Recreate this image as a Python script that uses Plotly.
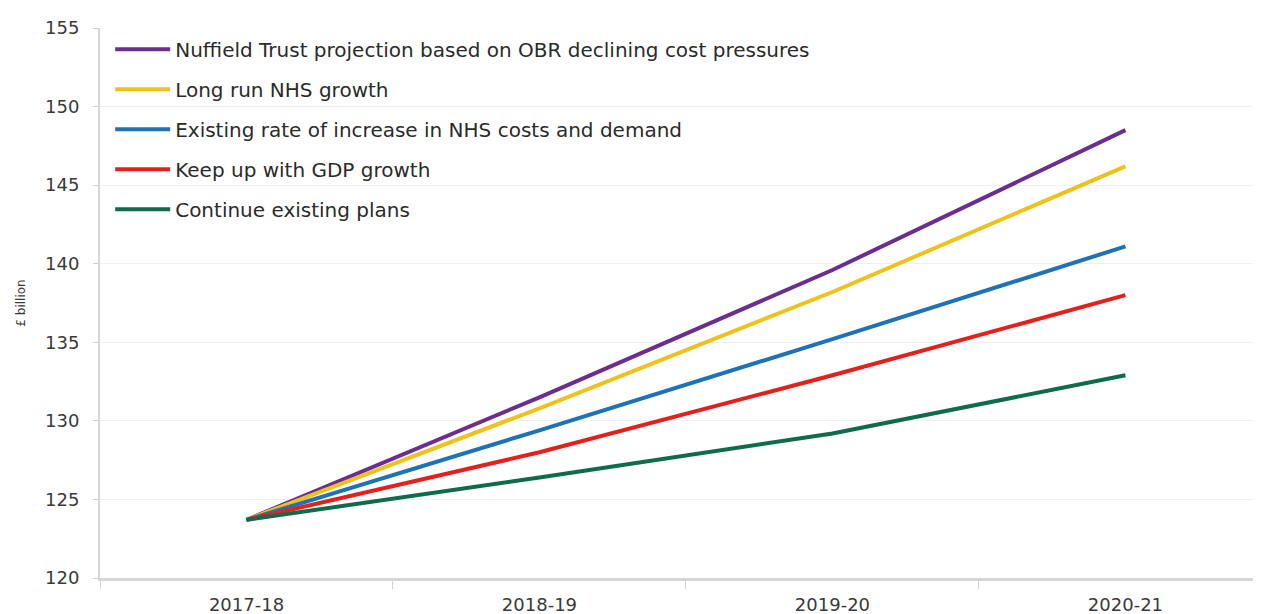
import plotly.graph_objects as go

categories = ["2017-18", "2018-19", "2019-20", "2020-21"]
series_names = [
    "Nuffield Trust projection based on OBR declining cost pressures",
    "Long run NHS growth",
    "Existing rate of increase in NHS costs and demand",
    "Keep up with GDP growth",
    "Continue existing plans",
]
nuffield = [123.7, 131.5, 139.6, 148.5]
long_run = [123.7, 130.8, 138.2, 146.2]
existing_rate = [123.7, 129.4, 135.2, 141.1]
gdp_growth = [123.7, 128.0, 132.9, 138.0]
existing_plans = [123.7, 126.4, 129.2, 132.9]
y_ticks = [120, 125, 130, 135, 140, 145, 150, 155]

colors = ["#6b2d8f", "#f0c11a", "#1d72b8", "#e3201c", "#0e6b4c"]
values = [nuffield, long_run, existing_rate, gdp_growth, existing_plans]

FONT = "'DejaVu Sans', sans-serif"

fig = go.Figure()
for i, (name, vals, col) in enumerate(zip(series_names, values, colors)):
    fig.add_trace(go.Scatter(
        x=categories, y=vals, mode="lines", name=name,
        line=dict(color=col, width=4),
        legendgroup=f"g{i}",
    ))

fig.update_layout(
    width=1261, height=614,
    paper_bgcolor="white", plot_bgcolor="white",
    margin=dict(l=92, r=0, t=20, b=44, autoexpand=False),
    font=dict(family=FONT, color="#333333"),
    showlegend=True,
    legend=dict(
        x=0.0087, y=0.997, xanchor="left", yanchor="top",
        font=dict(size=20, color="#2b2b2b", family=FONT),
        bgcolor="rgba(255,255,255,0)",
        tracegroupgap=11,
        itemwidth=55,
    ),
    xaxis=dict(
        type="category",
        range=[-0.5, 3.49],
        showgrid=False,
        showline=True, linecolor="#d6d6d6", linewidth=3,
        ticks="outside", tickson="boundaries", ticklen=8, tickcolor="#d0d0d0",
        tickfont=dict(size=18, color="#3a3a3a"),
        ticklabelstandoff=8,
    ),
    yaxis=dict(
        range=[120, 155],
        tickvals=y_ticks,
        showgrid=True, gridcolor="#f0f0f0", gridwidth=1,
        showline=True, linecolor="#d6d6d6", linewidth=2,
        ticks="outside", ticklen=5, tickcolor="#d0d0d0",
        tickfont=dict(size=18, color="#3a3a3a"),
        ticklabelstandoff=10,
        zeroline=False,
        title=dict(text="£ billion", font=dict(size=12, color="#3a3a3a"), standoff=17),
    ),
)

fig.write_html("out.html")
